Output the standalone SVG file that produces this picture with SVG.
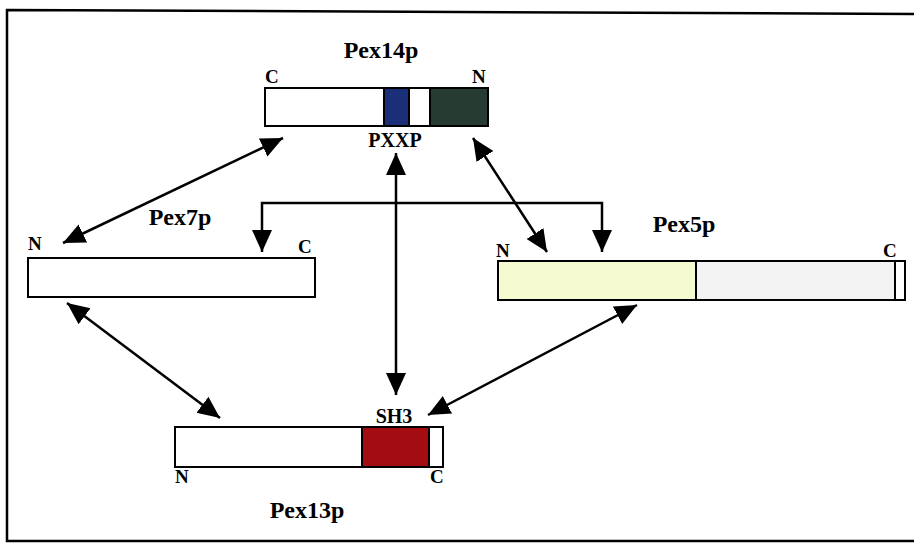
<svg xmlns="http://www.w3.org/2000/svg" width="914" height="544" viewBox="0 0 914 544">
  <style>
    .lbl { font-family: "Liberation Serif", "Times New Roman", serif; font-weight: bold; fill: #000; }
    .name { font-size: 24px; }
    .term { font-size: 19px; }
    .motif { font-size: 20px; }
    .box { stroke: #000; stroke-width: 2; }
    .conn { fill: none; stroke: #000; stroke-width: 2.5; marker-start: url(#head); marker-end: url(#head); }
  </style>
  <defs>
    <marker id="head" markerUnits="userSpaceOnUse" markerWidth="24" markerHeight="22" refX="22" refY="10" orient="auto-start-reverse">
      <path d="M0,0 L22,10 L0,20 z" fill="#000"/>
    </marker>
  </defs>

  <rect width="914" height="544" fill="#fff"/>
  <!-- outer frame -->
  <polyline points="914,14 7,10 7,541 914,541" fill="none" stroke="#000" stroke-width="2.5"/>

  <g id="pex14p">
    <rect class="box" x="265" y="88" width="223" height="38" fill="#fff"/>
    <rect x="384" y="89" width="25" height="36" fill="#1b2f78"/>
    <rect x="430" y="89" width="57" height="36" fill="#263c32"/>
    <line class="box" x1="384" y1="88" x2="384" y2="126"/>
    <line class="box" x1="409" y1="88" x2="409" y2="126"/>
    <line class="box" x1="430" y1="88" x2="430" y2="126"/>
    <text class="lbl name" x="381" y="58" text-anchor="middle">Pex14p</text>
    <text class="lbl term" x="265" y="83">C</text>
    <text class="lbl term" x="472" y="83">N</text>
    <text class="lbl motif" x="395" y="147" text-anchor="middle">PXXP</text>
  </g>

  <g id="pex7p">
    <rect class="box" x="28" y="258" width="287" height="39" fill="#fff"/>
    <text class="lbl name" x="180" y="225" text-anchor="middle">Pex7p</text>
    <text class="lbl term" x="28" y="250">N</text>
    <text class="lbl term" x="298" y="253">C</text>
  </g>

  <g id="pex5p">
    <rect class="box" x="498" y="261" width="407" height="39" fill="#f3f3f3"/>
    <rect x="499" y="262" width="197" height="37" fill="#f6fad0"/>
    <line class="box" x1="696" y1="261" x2="696" y2="300"/>
    <rect x="896" y="262" width="8" height="37" fill="#fff"/>
    <line class="box" x1="895" y1="261" x2="895" y2="300"/>
    <text class="lbl name" x="684" y="232" text-anchor="middle">Pex5p</text>
    <text class="lbl term" x="496" y="257">N</text>
    <text class="lbl term" x="883" y="257">C</text>
  </g>

  <g id="pex13p">
    <rect class="box" x="175" y="427" width="268" height="40" fill="#fff"/>
    <rect x="362" y="428" width="67" height="38" fill="#a30d12"/>
    <line class="box" x1="362" y1="427" x2="362" y2="467"/>
    <line class="box" x1="429" y1="427" x2="429" y2="467"/>
    <text class="lbl name" x="307" y="518" text-anchor="middle">Pex13p</text>
    <text class="lbl motif" x="394" y="423" text-anchor="middle">SH3</text>
    <text class="lbl term" x="175" y="483">N</text>
    <text class="lbl term" x="430" y="483">C</text>
  </g>

  <g id="connectors">
    <path class="conn" d="M283,138 L63,243"/>
    <path class="conn" d="M262,252 V203 H602 V252"/>
    <path class="conn" d="M396,153 V395"/>
    <path class="conn" d="M473,138 L547,252"/>
    <path class="conn" d="M67,303 L220,418"/>
    <path class="conn" d="M637,305 L428,415"/>
  </g>
</svg>
